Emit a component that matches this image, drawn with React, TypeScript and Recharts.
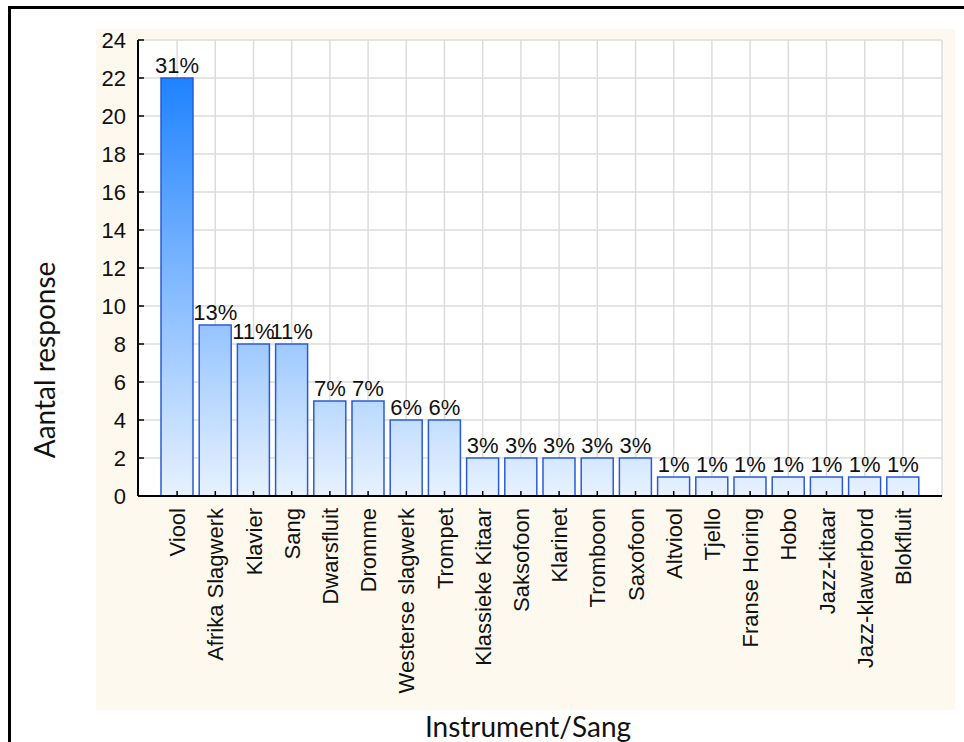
import React from "react"
import { BarChart, Bar, XAxis, YAxis, CartesianGrid, LabelList } from "recharts"

const instruments = [
  "Viool", "Afrika Slagwerk", "Klavier", "Sang", "Dwarsfluit", "Dromme",
  "Westerse slagwerk", "Trompet", "Klassieke Kitaar", "Saksofoon", "Klarinet",
  "Tromboon", "Saxofoon", "Altviool", "Tjello", "Franse Horing", "Hobo",
  "Jazz-kitaar", "Jazz-klawerbord", "Blokfluit",
]
const counts = [22, 9, 8, 8, 5, 5, 4, 4, 2, 2, 2, 2, 2, 1, 1, 1, 1, 1, 1, 1]
const percents = [31, 13, 11, 11, 7, 7, 6, 6, 3, 3, 3, 3, 3, 1, 1, 1, 1, 1, 1, 1]
const yTicks = [0, 2, 4, 6, 8, 10, 12, 14, 16, 18, 20, 22, 24]

const data = instruments.map((name, i) => ({ name, count: counts[i], pct: percents[i] }))

const FONT = "Arial, 'Liberation Sans', sans-serif"
const TITLE_FONT = "Lato, 'Open Sans', sans-serif"

const LeftTick = ({ x, y, payload }: any) => (
  <g>
    <line x1={x + 12} x2={x + 18} y1={y} y2={y} stroke="#000" strokeWidth={1.5} />
    <text x={x} y={y} dy={8} textAnchor="end" fontSize={22} fontFamily={FONT} fill="#111">
      {payload.value}
    </text>
  </g>
)

const RightTick = ({ x, y }: any) => (
  <line x1={x} x2={x - 6} y1={y} y2={y} stroke="#000" strokeWidth={1.5} />
)

const TopTick = ({ x, y }: any) => (
  <line x1={x} x2={x} y1={y} y2={y + 6} stroke="#000" strokeWidth={1.5} />
)

const BottomTick = ({ x, y, payload }: any) => (
  <g>
    <line x1={x} x2={x} y1={y - 12} y2={y - 17} stroke="#000" strokeWidth={1.5} />
    <text
      x={0}
      y={0}
      transform={`translate(${x + 8},${y}) rotate(-90)`}
      textAnchor="end"
      fontSize={22}
      fontFamily={FONT}
      fill="#111"
    >
      {payload.value}
    </text>
  </g>
)

export default function App() {
  return (
    <div style={{ position: "absolute", left: 0, top: 0, width: 964, height: 742, overflow: "hidden", background: "#fff" }}>
      <div style={{ position: "absolute", left: 8, top: 6, width: 1000, height: 800, border: "3px solid #000" }} />
      <div style={{ position: "absolute", left: 96, top: 29, width: 859, height: 681, background: "#fef9ee" }} />
      <div style={{ position: "absolute", left: 0, top: 0 }}>
        <BarChart
          width={964}
          height={742}
          data={data}
          margin={{ top: 40, right: 22, left: 98, bottom: 46 }}
          barSize={32}
        >
          <defs>
            <linearGradient id="barFill" gradientUnits="userSpaceOnUse" x1={0} y1={40} x2={0} y2={496}>
              <stop offset="0%" stopColor="#0c78ff" />
              <stop offset="100%" stopColor="#e8f2ff" />
            </linearGradient>
          </defs>
          <CartesianGrid stroke="#dcdcdc" strokeWidth={1.5} fill="#fff" />
          <Bar dataKey="count" fill="url(#barFill)" stroke="#2a5bd7" strokeWidth={1.5} isAnimationActive={false}>
            <LabelList
              dataKey="pct"
              position="top"
              offset={5}
              formatter={(v: any) => `${v}%`}
              style={{ fontSize: 22, fontFamily: FONT, fill: "#111" }}
            />
          </Bar>
          <XAxis
            dataKey="name"
            interval={0}
            height={200}
            padding={{ left: 20, right: 20 }}
            tickSize={0}
            tickMargin={12}
            axisLine={{ stroke: "#000", strokeWidth: 2 }}
            tickLine={false}
            tick={<BottomTick />}
            label={{ value: "Instrument/Sang", position: "insideBottom", content: () => (
              <text x={528} y={737} textAnchor="middle" fontSize={28} fontFamily={TITLE_FONT} fill="#111">Instrument/Sang</text>
            ) }}
          />
          <XAxis
            xAxisId="t"
            dataKey="name"
            orientation="top"
            interval={0}
            height={0}
            padding={{ left: 20, right: 20 }}
            tickSize={0}
            tickMargin={0}
            axisLine={{ stroke: "#000", strokeWidth: 2 }}
            tickLine={false}
            tick={<TopTick />}
          />
          <YAxis
            domain={[0, 24]}
            ticks={yTicks}
            width={40}
            tickSize={0}
            tickMargin={12}
            axisLine={{ stroke: "#000", strokeWidth: 2 }}
            tickLine={false}
            tick={<LeftTick />}
            label={{ value: "Aantal response", content: () => (
              <text x={0} y={0} transform="translate(55,360) rotate(-90)" textAnchor="middle" fontSize={28} fontFamily={TITLE_FONT} fill="#111">Aantal response</text>
            ) }}
          />
          <YAxis
            yAxisId="r"
            orientation="right"
            domain={[0, 24]}
            ticks={yTicks}
            width={0}
            tickSize={0}
            tickMargin={0}
            axisLine={{ stroke: "#000", strokeWidth: 2 }}
            tickLine={false}
            tick={<RightTick />}
          />
        </BarChart>
      </div>
    </div>
  )
}
